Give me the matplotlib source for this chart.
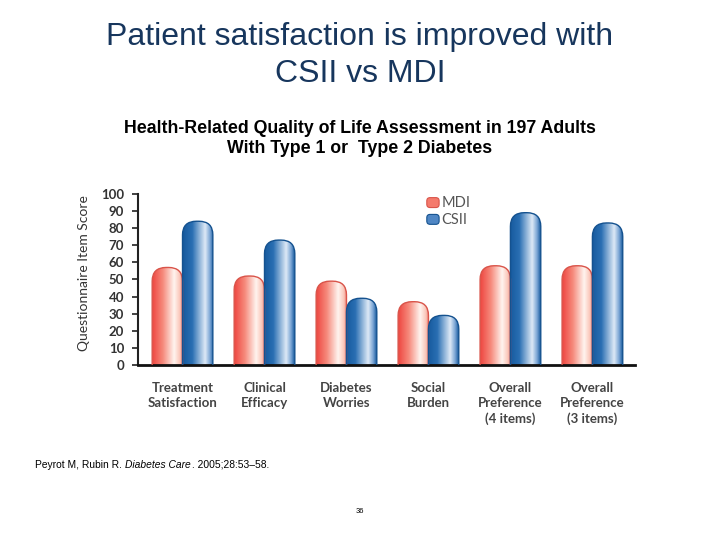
import numpy as np
import matplotlib.pyplot as plt
from matplotlib.patches import FancyBboxPatch
from matplotlib.colors import LinearSegmentedColormap

categories = ["Treatment\nSatisfaction", "Clinical\nEfficacy", "Diabetes\nWorries",
              "Social\nBurden", "Overall\nPreference\n(4 items)", "Overall\nPreference\n(3 items)"]
mdi = [57, 52, 49, 37, 58, 58]
csii = [84, 73, 39, 29, 89, 83]

red_cmap = LinearSegmentedColormap.from_list(
    "red", [(0, "#ee4640"), (0.35, "#f68a7c"), (0.72, "#fff4ef"), (0.9, "#fbc8bb"), (1, "#f08a7c")])
blue_cmap = LinearSegmentedColormap.from_list(
    "blue", [(0, "#165a9e"), (0.3, "#2a6fb3"), (0.72, "#dde9f6"), (0.88, "#7aa5d4"), (1, "#165a9e")])

fig = plt.figure(figsize=(7.2, 5.4), dpi=100)
fig.patch.set_facecolor("white")

fig.text(0.5, 0.898, "Patient satisfaction is improved with\nCSII vs MDI", ha="center", va="center",
         fontsize=23, color="#17365d", family="Liberation Sans", linespacing=1.3)
fig.text(0.5, 0.744, "Health-Related Quality of Life Assessment in 197 Adults\nWith Type 1 or  Type 2 Diabetes",
         ha="center", va="center", fontsize=12.8, fontweight="bold", family="Liberation Sans",
         linespacing=1.25)

ax = fig.add_axes([0.192, 0.324, 0.69, 0.317])
ax.set_xlim(-0.54, 5.52)
ax.set_ylim(0, 100)

w = 0.37
r = 0.17
aspect = 47.0
grad = np.linspace(0, 1, 100).reshape(1, -1)


def draw_bar(x0, val, cmap, edge):
    patch = FancyBboxPatch((x0, -10), w, val + 10,
                           boxstyle="round,pad=0,rounding_size=%f" % r,
                           mutation_aspect=aspect, facecolor="none",
                           edgecolor=edge, linewidth=1.0, zorder=3)
    ax.add_patch(patch)
    im = ax.imshow(grad, cmap=cmap, aspect="auto", extent=(x0, x0 + w, -10, val),
                   zorder=2)
    im.set_clip_path(patch)


x = np.arange(len(categories))
for i in range(len(categories)):
    draw_bar(x[i] - w, mdi[i], red_cmap, "#d9544a")
    draw_bar(x[i], csii[i], blue_cmap, "#15528f")

ax.set_xlim(-0.54, 5.52)
ax.set_ylim(0, 100)

for s in ["top", "right"]:
    ax.spines[s].set_visible(False)
ax.spines["left"].set_linewidth(1.5)
ax.spines["bottom"].set_linewidth(2)
ax.spines["left"].set_color("#222222")
ax.spines["bottom"].set_color("#111111")

ax.set_yticks(range(0, 101, 10))
ax.tick_params(axis="y", length=4, width=1.2, colors="#222222", labelsize=9.5, pad=6)
for lab in ax.get_yticklabels():
    lab.set_fontweight("bold")
    lab.set_color("#333333")
    lab.set_family("Lato")

ax.set_xticks(x)
ax.set_xticklabels(categories, fontsize=9.5, fontweight="bold", color="#444444",
                   family="Lato", va="top", linespacing=1.3)
ax.tick_params(axis="x", length=0, pad=12)

ax.set_ylabel("Questionnaire Item Score", fontsize=10, color="#333333", family="Lato")
ax.yaxis.set_label_coords(-0.098, 0.54)

# legend
ax.add_patch(FancyBboxPatch((2.98, 92.0), 0.15, 5.8, boxstyle="round,pad=0,rounding_size=0.04",
                            mutation_aspect=aspect, facecolor="#f47a6c", edgecolor="#d9544a",
                            lw=0.8, zorder=4))
ax.add_patch(FancyBboxPatch((2.98, 82.2), 0.15, 5.8, boxstyle="round,pad=0,rounding_size=0.04",
                            mutation_aspect=aspect, facecolor="#4f86c4", edgecolor="#15528f",
                            lw=0.8, zorder=4))
ax.text(3.16, 94.8, "MDI", fontsize=10.5, color="#555555", family="Lato", va="center")
ax.text(3.16, 85.0, "CSII", fontsize=10.5, color="#555555", family="Lato", va="center")

# citation, pieces chained by their drawn widths
fig.canvas.draw()
renderer = fig.canvas.get_renderer()
xpos = 35
for part, style in [("Peyrot M, Rubin R. ", "normal"), ("Diabetes Care", "italic"),
                    (". 2005;28:53\u201358.", "normal")]:
    t = fig.text(xpos / 720, 0.139, part, fontsize=7.4, family="Liberation Sans",
                 style=style, va="center")
    xpos = t.get_window_extent(renderer).x1 + (2 if style == "italic" else 0)
fig.text(0.5, 0.053, "36", fontsize=5.5, family="Liberation Sans", ha="center", va="center")

fig.savefig("out.png", dpi=100)
